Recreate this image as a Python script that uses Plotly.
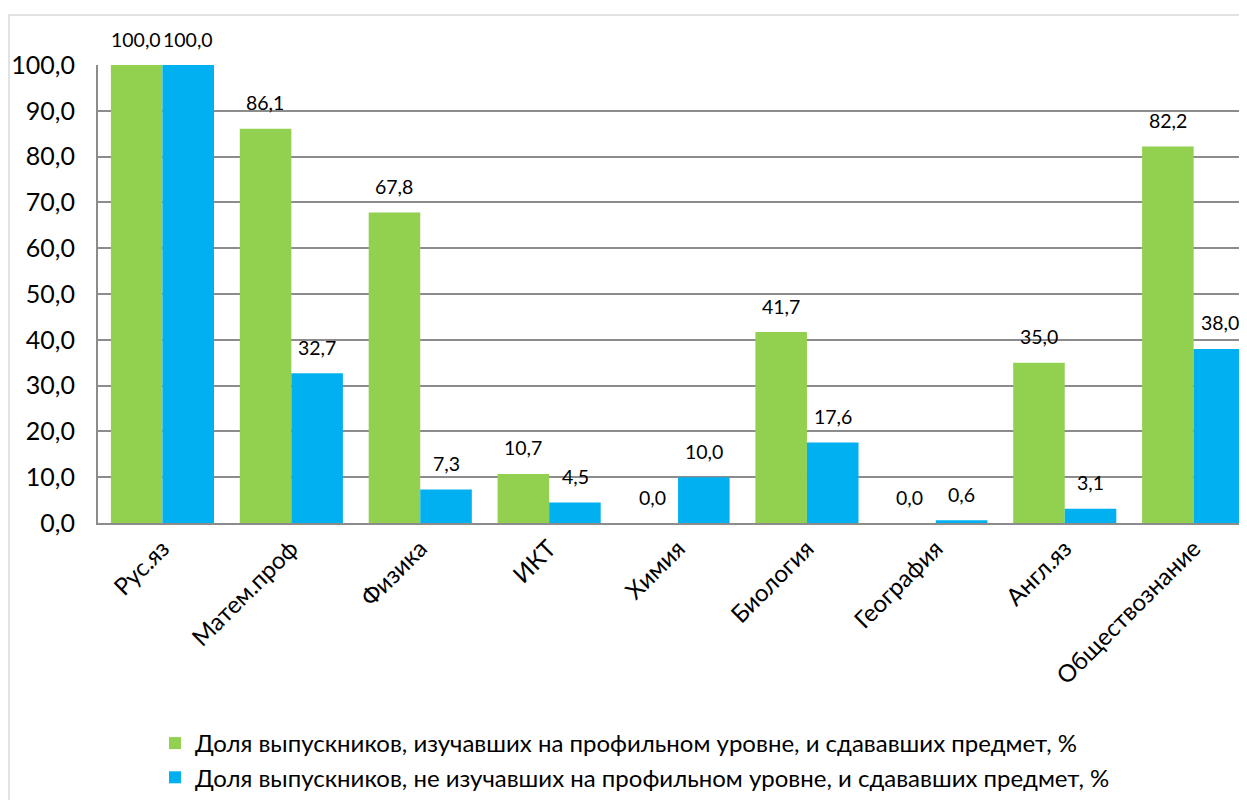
import plotly.graph_objects as go

categories = ["Рус.яз", "Матем.проф", "Физика", "ИКТ", "Химия", "Биология", "География", "Англ.яз", "Обществознание"]
profile_share = [100.0, 86.1, 67.8, 10.7, 0.0, 41.7, 0.0, 35.0, 82.2]
nonprofile_share = [100.0, 32.7, 7.3, 4.5, 10.0, 17.6, 0.6, 3.1, 38.0]
series_names = [
    "Доля выпускников, изучавших на профильном уровне, и сдававших предмет, %",
    "Доля выпускников, не изучавших на профильном уровне, и сдававших предмет, %",
]

GREEN = "#92D050"
BLUE = "#00B0F0"
GRID = "#8c8c8c"
FONT = "Lato, 'Open Sans', sans-serif"

# page body has an 8px margin, so the figure is a bit smaller than the window
W, H = 1231, 792
L, T = 90, 57
plot_bottom = 515
B = H - plot_bottom
plot_w = W - L
plot_h = plot_bottom - T


def fmt(v: float) -> str:
    return f"{v:.1f}".replace(".", ",")


fig = go.Figure()
fig.add_trace(go.Bar(x=categories, y=profile_share, name=series_names[0], marker={"color": GREEN, "line": {"width": 0}}))
fig.add_trace(go.Bar(x=categories, y=nonprofile_share, name=series_names[1], marker={"color": BLUE, "line": {"width": 0}}))

for shift, values in ((-26, profile_share), (26, nonprofile_share)):
    for cat, val in zip(categories, values):
        fig.add_annotation(
            x=cat, y=val, text=fmt(val), showarrow=False, xshift=shift, yshift=26,
            font={"size": 19.5, "color": "#000000", "family": FONT},
        )

band = 128.9
right_edge = plot_w / band - 0.5

fig.add_shape(
    type="rect", xref="paper", yref="paper",
    x0=(1 - L) / plot_w, x1=1.05, y0=-(B + 20) / plot_h, y1=(plot_bottom - 7) / plot_h,
    line={"color": "#d9d9d9", "width": 1.5}, fillcolor="rgba(0,0,0,0)", layer="below",
)

fig.update_layout(
    width=W,
    height=H,
    margin={"l": L, "r": 0, "t": T, "b": B},
    paper_bgcolor="white",
    plot_bgcolor="white",
    separators=", ",
    barmode="group",
    bargap=0.2,
    bargroupgap=0.0,
    font={"family": FONT, "color": "#000000"},
    showlegend=True,
    legend={
        "x": (147 - L) / plot_w, "y": 0.0,
        "yref": "container",
        "xanchor": "left", "yanchor": "bottom",
        "font": {"size": 24, "family": FONT},
        "bgcolor": "rgba(0,0,0,0)",
        "itemwidth": 30,
        "tracegroupgap": 5,
    },
    xaxis={
        "range": [-0.5, right_edge],
        "tickangle": -45,
        "tickfont": {"size": 24, "family": FONT},
        "showline": True, "linecolor": GRID, "linewidth": 2,
        "ticks": "", "showgrid": False,
    },
    yaxis={
        "range": [0, 100],
        "dtick": 10,
        "tickformat": ".1f",
        "tickfont": {"size": 25, "family": FONT},
        "ticklabelstandoff": 16,
        "showgrid": True, "gridcolor": GRID, "gridwidth": 1.5,
        "showline": True, "linecolor": GRID, "linewidth": 2,
        "zeroline": False, "ticks": "", "ticklen": 0,
    },
)

fig.write_html("out.html")
